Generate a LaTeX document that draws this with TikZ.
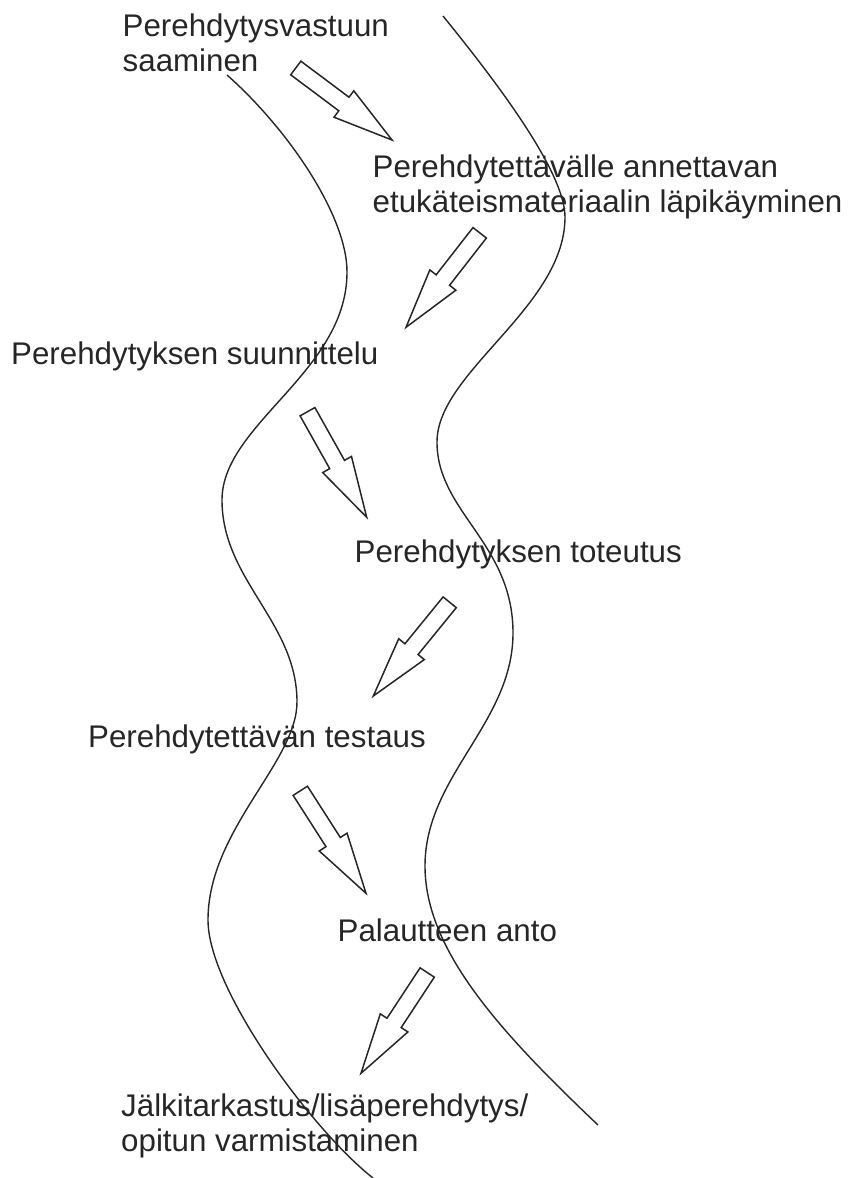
\documentclass[tikz,border=0pt]{standalone}
\usepackage{fontspec}
\setmainfont{Liberation Sans}
\usetikzlibrary{calc}
\newcommand\blockarrow[2]{%
  \coordinate (#1m) at ($(#1)!0.5!(#2)$);
  \draw[barrow] ($(#1)!8.5pt!90:(#2)$) -- ($(#1m)!8.5pt!90:(#2)$) -- ($(#1m)!16.5pt!90:(#2)$) -- (#2)
    -- ($(#1m)!16.5pt!-90:(#2)$) -- ($(#1m)!8.5pt!-90:(#2)$) -- ($(#1)!8.5pt!-90:(#2)$) -- cycle;}
\tikzset{
  lbl/.style={anchor=base west, inner sep=0pt, align=left, font=\fontsize{31.3}{35}\selectfont, text=black!85},
  barrow/.style={draw=black!85, line width=1.5pt, line join=miter, fill=white},
  river/.style={draw=black!85, line width=1.4pt},
}
\begin{document}
\begin{tikzpicture}[x=1pt, y=-1pt]
\useasboundingbox (0,0) rectangle (847,1178);
% banks
\draw[river] (227,75) .. controls (287,128) and (347,215) .. (347,272)
  .. controls (347,372) and (222,424) .. (222,500)
  .. controls (222,580) and (297,622) .. (297,702)
  .. controls (297,762) and (208,830) .. (208,920)
  .. controls (208,990) and (313,1131) .. (373,1178);
\draw[river] (443,16) .. controls (490,74) and (565,170) .. (565,217)
  .. controls (565,307) and (437,372) .. (437,442)
  .. controls (437,512) and (513,543) .. (513,633)
  .. controls (513,723) and (425,776) .. (425,866)
  .. controls (425,950) and (500,1032) .. (598,1125);
% texts
\node[lbl] (t1) at (122.5,71.7) {Perehdytysvastuun\\saaminen};
\node[lbl] (t2) at (372.5,212.7) {Perehdytettävälle annettavan\\etukäteismateriaalin läpikäyminen};
\node[lbl] (t3) at (11,364) {Perehdytyksen suunnittelu};
\node[lbl] (t4) at (354.5,562) {Perehdytyksen toteutus};
\node[lbl] (t5) at (88,747) {Perehdytettävän testaus};
\node[lbl] (t6) at (337.5,941) {Palautteen anto};
\node[lbl] (t7) at (121,1151.7) {Jälkitarkastus/lisäperehdytys/\\opitun varmistaminen};
% arrows
\coordinate (a1) at (295.8,68);   \coordinate (b1) at (392,140);
\coordinate (a2) at (479.7,232.8); \coordinate (b2) at (406,327.3);
\coordinate (a3) at (307.5,411.7); \coordinate (b3) at (366.7,517.3);
\coordinate (a4) at (449.7,602.3); \coordinate (b4) at (373.3,696);
\coordinate (a5) at (300.3,790.8); \coordinate (b5) at (366,893.3);
\coordinate (a6) at (427.2,972.5); \coordinate (b6) at (361,1073.3);
\blockarrow{a1}{b1}
\blockarrow{a2}{b2}
\blockarrow{a3}{b3}
\blockarrow{a4}{b4}
\blockarrow{a5}{b5}
\blockarrow{a6}{b6}
\end{tikzpicture}
\end{document}
